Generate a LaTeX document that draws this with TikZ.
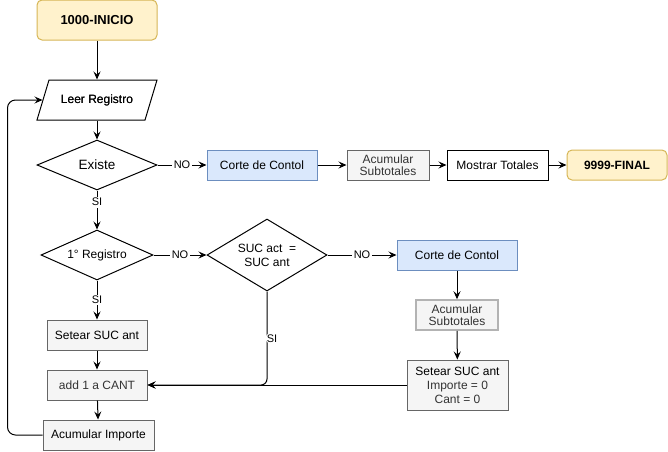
\documentclass[tikz,border=0pt]{standalone}
\usepackage{fontspec}
\setmainfont{Liberation Sans}
\usetikzlibrary{shapes.geometric,arrows.meta}
\definecolor{yfill}{HTML}{FFF2CC}
\definecolor{ydraw}{HTML}{D6B656}
\definecolor{bfill}{HTML}{DAE8FC}
\definecolor{bdraw}{HTML}{6C8EBF}
\definecolor{gfill}{HTML}{F5F5F5}
\definecolor{gdraw}{HTML}{666666}
\definecolor{gtext}{HTML}{333333}
\definecolor{ldraw}{HTML}{B3B3B3}
\tikzset{
  base/.style={inner sep=0pt, line width=1pt, align=center, font=\fontsize{12}{14}\selectfont},
  term/.style={base, draw=ydraw, fill=yfill, rounded corners=5pt, font=\fontsize{13}{15}\selectfont\bfseries},
  blue/.style={base, draw=bdraw, fill=bfill},
  grey/.style={base, draw=gdraw, fill=gfill, text=gtext},
  plain/.style={base, draw=black, fill=white},
  dec/.style={base, shape=diamond, draw=black, fill=white},
  arr/.style={line width=1pt, -{Stealth[length=8pt,width=7pt,inset=3pt]}},
  lbl/.style={fill=white, inner sep=1.5pt, font=\fontsize{11}{13}\selectfont},
}
\begin{document}
\begin{tikzpicture}[x=1pt,y=-1pt]
\useasboundingbox (0,0) rectangle (668,451);
% nodes
\node[term, minimum width=120, minimum height=40] (ini) at (97,20) {1000-INICIO};
\node[base, minimum width=108, minimum height=40] (leer) at (97,100) {Leer Registro};
\draw[line width=1pt] (49,80) -- (157,80) -- (145,120) -- (37,120) -- cycle;
\node[base] at (97,100) {Leer Registro};
\node[dec, minimum width=120, minimum height=50, aspect=2.4, font=\fontsize{13.5}{15}\selectfont] (exi) at (97,165) {Existe};
\node[blue, minimum width=110, minimum height=30] (cc1) at (262,165) {Corte de Contol};
\node[grey, minimum width=82, minimum height=30, font=\fontsize{12}{14}\selectfont] (as1) at (388,165) {Acumular\\[-1.5pt]Subtotales};
\node[plain, minimum width=101, minimum height=30] (mt) at (497.5,165) {Mostrar Totales};
\node[term, minimum width=100, minimum height=30, font=\fontsize{12}{14}\selectfont\bfseries] (fin) at (617,165) {9999-FINAL};
\node[dec, minimum width=112, minimum height=50, aspect=2.24] (reg) at (97,255) {1° Registro};
\node[dec, minimum width=120, minimum height=72, aspect=1.67] (suc) at (267,255) {SUC act\ \ =\\SUC ant};
\node[blue, minimum width=120, minimum height=30] (cc2) at (457,255) {Corte de Contol};
\node[base, draw=ldraw, line width=1.5pt, fill=gfill, text=gtext, minimum width=82, minimum height=30] (as2) at (457,315) {Acumular\\[-1.5pt]Subtotales};
\node[grey, minimum width=101, minimum height=50] (set2) at (457.5,385) {\textcolor{black}{Setear SUC ant}\\Importe = 0\\Cant = 0};
\node[grey, minimum width=100, minimum height=30, text=black] (set1) at (97,335) {Setear SUC ant};
\node[grey, minimum width=100, minimum height=30] (add) at (97,385) {add 1 a CANT};
\node[grey, minimum width=111, minimum height=30, text=black] (acimp) at (98.5,435) {Acumular Importe};
% connectors
\draw[arr] (ini) -- (leer);
\draw[arr] (leer) -- (exi);
\draw[arr] (exi.east) -- node[lbl]{NO} (cc1.west);
\draw[arr] (cc1) -- (as1);
\draw[arr] (as1) -- (mt);
\draw[arr] (mt) -- (fin);
\draw[arr] (exi.south) -- node[lbl, pos=0.3]{SI} (reg.north);
\draw[arr] (reg.east) -- node[lbl]{NO} (suc.west);
\draw[arr] (reg.south) -- node[lbl]{SI} (set1.north);
\draw[arr] (suc.east) -- node[lbl]{NO} (cc2.west);
\draw[arr] (cc2) -- (as2);
\draw[arr] (as2) -- (set2);
\draw[arr] (set2.west) -- (add.east);
\draw[arr, rounded corners=6pt] (suc.south) |- node[lbl, pos=0.25, xshift=5pt]{SI} (add.east);
\draw[arr] (set1) -- (add);
\draw[arr] (add) -- (acimp);
\draw[arr, rounded corners=8pt] (acimp.west) -- ++(-35,0) |- (leer.west);
\end{tikzpicture}
\end{document}
